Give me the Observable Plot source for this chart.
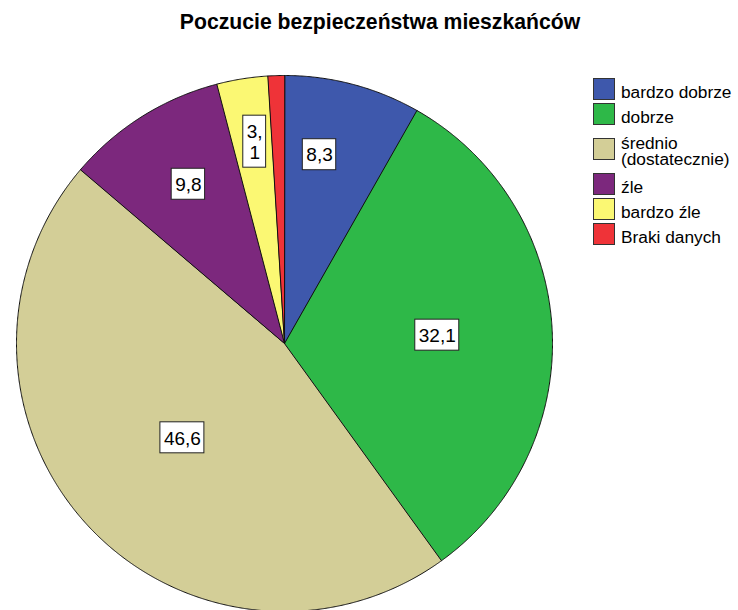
<!DOCTYPE html>
<html>
<head>
<meta charset="utf-8">
<script src="https://cdn.jsdelivr.net/npm/d3@7"></script>
<script src="https://cdn.jsdelivr.net/npm/@observablehq/plot@0.6"></script>
<style>
  html, body { margin: 0; padding: 0; background: #fff; }
  #wrap { position: relative; width: 738px; height: 610px; overflow: hidden; font-family: "Liberation Sans", Arial, sans-serif; }
  #title { position: absolute; left: 0; top: 11px; width: 760px; text-align: center; font-weight: bold; font-size: 21.2px; line-height: 21px; color: #000; }
  #chart { position: absolute; left: 0; top: 0; }
  .sw { position: absolute; width: 20px; height: 20px; border: 1px solid #333; }
  .lt { position: absolute; font-size: 17.3px; line-height: 16px; color: #000; white-space: pre; }
</style>
</head>
<body>
<div id="wrap">
  <div id="chart"></div>
  <div id="title">Poczucie bezpieczeństwa mieszkańców</div>
  <div id="legend"></div>
</div>
<script>
// ---- data ----
const categories = ["bardzo dobrze", "dobrze", "średnio (dostatecznie)", "źle", "bardzo źle", "Braki danych"];
const legendLabels = ["bardzo dobrze", "dobrze", "średnio\n(dostatecznie)", "źle", "bardzo źle", "Braki danych"];
const values = [8.3, 32.1, 46.6, 9.8, 3.1, 1.0];
const sliceLabels = ["8,3", "32,1", "46,6", "9,8", "3,\n1", null];
const colors = ["#3E58AC", "#2EB848", "#D3CE97", "#7C287D", "#FBF873", "#EF3338"];

// ---- layout ----
const W = 738, H = 610;
const cx = 284, cy = 343, R = 268;
const labelRadius = [192, 153, 139, 186, 204];
const labelAngleShift = [-4.3, 0, 0, 1, 0.7];
const legendTops = [77.5, 102.5, 138, 172.5, 198, 223];
const fontSize = 19;

const arcs = d3.pie().sort(null).value(d => d)(values);

// slice outlines as polygons (center + arc samples)
const polys = [];
arcs.forEach((a, i) => {
  polys.push({cat: categories[i], x: 0, y: 0});
  const n = Math.max(2, Math.ceil((a.endAngle - a.startAngle) / (Math.PI / 720)));
  for (let k = 0; k <= n; k++) {
    const t = a.startAngle + (a.endAngle - a.startAngle) * k / n;
    polys.push({cat: categories[i], x: R * Math.sin(t), y: R * Math.cos(t)});
  }
});

// label boxes
const ctx = document.createElement("canvas").getContext("2d");
ctx.font = `${fontSize}px "Liberation Sans", Arial, sans-serif`;
const lineH = 21;
const labels = [];
arcs.forEach((a, i) => {
  if (!sliceLabels[i]) return;
  const m = (a.startAngle + a.endAngle) / 2 + labelAngleShift[i] * Math.PI / 180;
  const lines = sliceLabels[i].split("\n");
  const tw = d3.max(lines, l => ctx.measureText(l).width);
  const bw = tw + 7;
  const bh = lines.length === 1 ? 31 : lines.length * lineH + 10;
  const x = labelRadius[i] * Math.sin(m), y = labelRadius[i] * Math.cos(m);
  labels.push({text: sliceLabels[i], x, y, x1: x - bw / 2, x2: x + bw / 2, y1: y - bh / 2, y2: y + bh / 2});
});

const plot = Plot.plot({
  width: W, height: H,
  margin: 0,
  x: {domain: [-cx, W - cx], axis: null},
  y: {domain: [-(H - cy), cy], axis: null},
  color: {domain: categories, range: colors},
  style: {fontFamily: '"Liberation Sans", Arial, sans-serif', background: "transparent", overflow: "hidden"},
  marks: [
    Plot.line(polys, {x: "x", y: "y", z: "cat", fill: "cat", stroke: "#111", strokeWidth: 1, curve: "linear-closed", strokeLinejoin: "miter"}),
    Plot.rect(labels, {x1: "x1", x2: "x2", y1: "y1", y2: "y2", fill: "white", stroke: "#222", strokeWidth: 1}),
    Plot.text(labels, {x: "x", y: "y", text: "text", fontSize: fontSize, lineHeight: lineH / fontSize, fill: "black"})
  ]
});
document.getElementById("chart").appendChild(plot);

// legend
const leg = document.getElementById("legend");
legendLabels.forEach((lab, i) => {
  const top = legendTops[i];
  const sw = document.createElement("div");
  sw.className = "sw";
  sw.style.left = "593px";
  sw.style.top = top + "px";
  sw.style.background = colors[i];
  leg.appendChild(sw);
  const t = document.createElement("div");
  t.className = "lt";
  t.style.left = "621px";
  const twoLine = lab.includes("\n");
  t.style.top = (twoLine ? top - 3 : top + 6) + "px";
  t.textContent = lab;
  leg.appendChild(t);
});
</script>
</body>
</html>
